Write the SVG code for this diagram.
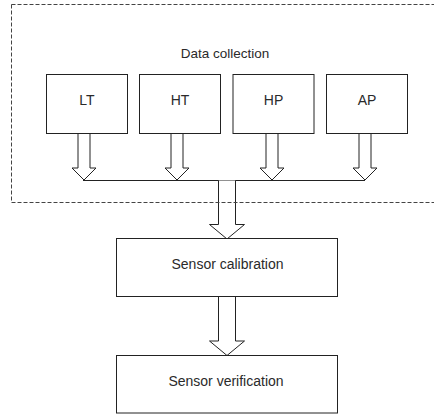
<svg xmlns="http://www.w3.org/2000/svg" width="434" height="414" viewBox="0 0 434 414">
<style>
.box{fill:#fff;stroke:#222;stroke-width:1}
.arr{fill:#fff;stroke:#222;stroke-width:1;stroke-linejoin:miter}
.ln{fill:none;stroke:#222;stroke-width:1}
.dash{fill:none;stroke:#444;stroke-width:1;stroke-dasharray:4 2}
text{font-family:"Liberation Sans",Arial,sans-serif;font-size:14px;fill:#2a2a2a;text-anchor:middle}
</style>
<rect fill="#fff" x="0" y="0" width="434" height="414"/>
<g id="connectors">
<polyline class="arr" points="78,133 78,168 72,168 84,180 96,168 90,168 90,133"/>
<polyline class="arr" points="171,133 171,168 165,168 177,180 189,168 183,168 183,133"/>
<polyline class="arr" points="266,133 266,168 260,168 272,180 284,168 278,168 278,133"/>
<polyline class="arr" points="359,133 359,168 353,168 365,180 377,168 371,168 371,133"/>
<line class="ln" x1="83" y1="180.5" x2="365" y2="180.5"/>
<polyline class="arr" points="218.5,180.5 218.5,224.5 209.5,224.5 227,239 244.5,224.5 235.5,224.5 235.5,180.5"/>
<polyline class="arr" points="218.5,297 218.5,341 209.5,341 227,355.5 244.5,341 235.5,341 235.5,297"/>
</g>
<g id="group-data-collection">
<rect class="dash" x="11.5" y="4.5" width="440" height="198"/>
<text x="225" y="57.5" style="font-size:13.5px">Data collection</text>
</g>
<g id="node-lt">
<rect class="box" x="46.5" y="74.5" width="81" height="59"/>
<text x="87" y="105">LT</text>
</g>
<g id="node-ht">
<rect class="box" x="139.5" y="74.5" width="81" height="59"/>
<text x="180" y="105">HT</text>
</g>
<g id="node-hp">
<rect class="box" x="233" y="74.5" width="81" height="59"/>
<text x="273.5" y="105">HP</text>
</g>
<g id="node-ap">
<rect class="box" x="326.5" y="74.5" width="81" height="59"/>
<text x="367" y="105">AP</text>
</g>
<g id="node-calibration">
<rect class="box" x="116.5" y="238.5" width="221" height="58"/>
<text x="227.5" y="268.5">Sensor calibration</text>
</g>
<g id="node-verification">
<rect class="box" x="116.5" y="355.5" width="221" height="57.5"/>
<text x="226" y="385.5">Sensor verification</text>
</g>
</svg>
